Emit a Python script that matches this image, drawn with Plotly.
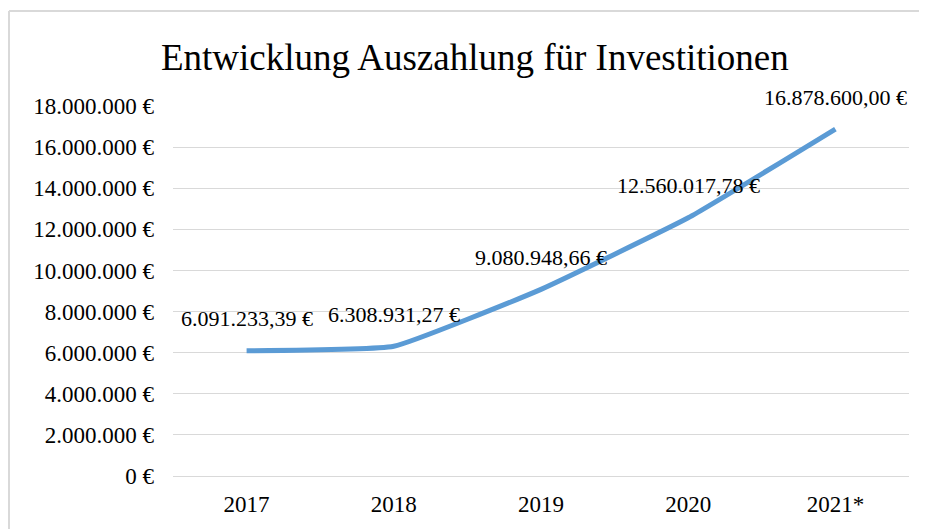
import plotly.graph_objects as go

years = ["2017", "2018", "2019", "2020", "2021*"]
values = [6091233.39, 6308931.27, 9080948.66, 12560017.78, 16878600.00]
label_texts = ["6.091.233,39 €", "6.308.931,27 €", "9.080.948,66 €", "12.560.017,78 €", "16.878.600,00 €"]
tick_vals = [0, 2000000, 4000000, 6000000, 8000000, 10000000, 12000000, 14000000, 16000000, 18000000]
tick_text = ["0 €", "2.000.000 €", "4.000.000 €", "6.000.000 €", "8.000.000 €", "10.000.000 €",
             "12.000.000 €", "14.000.000 €", "16.000.000 €", "18.000.000 €"]

SERIF = "Liberation Serif, Times New Roman, serif"

fig = go.Figure()
fig.add_trace(go.Scatter(
    x=years, y=values, mode="lines",
    line=dict(color="#5B9BD5", width=5, shape="spline", smoothing=0.35),
    hoverinfo="skip", showlegend=False,
))

for i, (y, t) in enumerate(zip(values, label_texts)):
    fig.add_annotation(x=i, y=y, xref="x", yref="y", text=t, showarrow=False, yshift=32,
                       font=dict(family=SERIF, size=22, color="#000000"))

# chart-area border (left and top edges visible)
fig.add_shape(type="line", xref="paper", yref="paper",
              x0=-0.2228, x1=-0.2228, y0=-0.2, y1=1.257,
              line=dict(color="#D9D9D9", width=2), layer="below")
fig.add_shape(type="line", xref="paper", yref="paper",
              x0=-0.2228, x1=1.03, y0=1.257, y1=1.257,
              line=dict(color="#D9D9D9", width=2), layer="below")

fig.update_layout(
    width=919, height=521,
    margin=dict(l=165, r=18, t=98, b=42),
    paper_bgcolor="#FFFFFF", plot_bgcolor="#FFFFFF",
    title=dict(text="Entwicklung Auszahlung für Investitionen", x=0.508, xanchor="center",
               y=0.905, yanchor="middle",
               font=dict(family=SERIF, size=37, color="#000000")),
    font=dict(family=SERIF, color="#000000"),
    xaxis=dict(showgrid=False, showline=False, zeroline=False, ticks="",
               tickfont=dict(family=SERIF, size=23, color="#000000"),
               ticklabelstandoff=12,
               range=[-0.5, 4.5]),
    yaxis=dict(range=[0, 18000000], tickvals=tick_vals, ticktext=tick_text,
               showgrid=True, gridcolor="#D9D9D9", gridwidth=1.3,
               zeroline=True, zerolinecolor="#D9D9D9", zerolinewidth=1.3,
               showline=False, ticks="", ticklabelstandoff=18,
               tickfont=dict(family=SERIF, size=23, color="#000000")),
)

fig.write_html("out.html")
